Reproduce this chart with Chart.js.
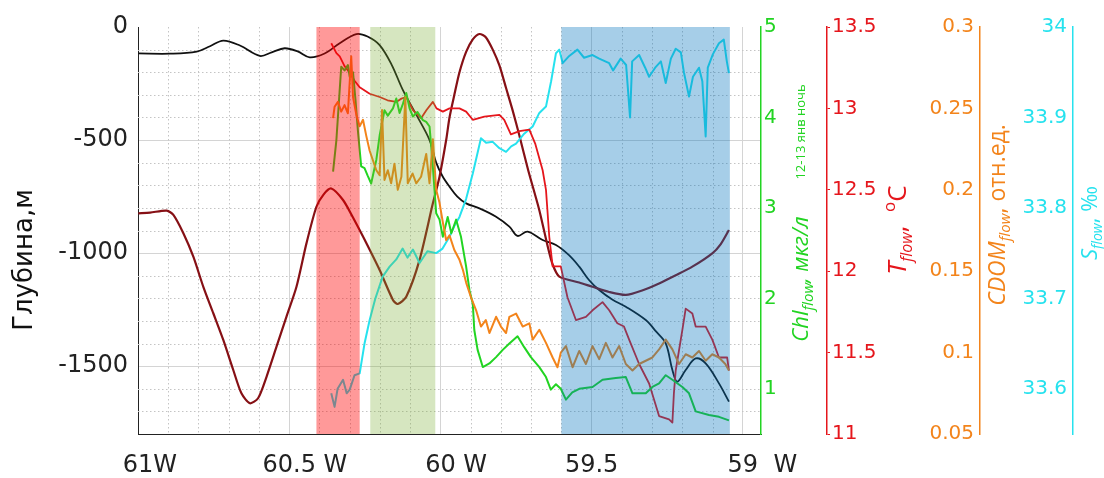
<!DOCTYPE html>
<html>
<head>
<meta charset="utf-8">
<script src="https://cdn.jsdelivr.net/npm/chart.js@4.4.1/dist/chart.umd.min.js"></script>
<style>
  html, body { margin: 0; padding: 0; background: #fff; }
</style>
</head>
<body>
<canvas id="transect" width="1104" height="478"></canvas>
<script>
// Разрез вдоль трека, 12-13 янв (ночь): глубина, Chl, T, CDOM, S

// долгота (°W) и глубина дна
const bottomLon = [60.999, 60.894, 60.806, 60.762, 60.718, 60.663, 60.597, 60.558, 60.515, 60.472,
  60.432, 60.383, 60.333, 60.278, 60.241, 60.201, 60.162, 60.124, 60.079, 60.036,
  60.014, 59.993, 59.970, 59.944, 59.915, 59.871, 59.816, 59.772, 59.745, 59.712,
  59.662, 59.618, 59.574, 59.541, 59.508, 59.475, 59.432, 59.387, 59.321, 59.288,
  59.255, 59.233, 59.217, 59.189, 59.156, 59.123, 59.079, 59.046];
const bottomDepth = [-117, -118, -109, -85, -60, -82, -128, -112, -94, -108,
  -134, -117, -72, -31, -42, -80, -165, -279, -390, -500,
  -600, -660, -706, -750, -780, -802, -839, -883, -924, -905,
  -942, -964, -1010, -1060, -1120, -1163, -1205, -1237, -1296, -1345,
  -1399, -1517, -1569, -1517, -1466, -1488, -1576, -1657];

// глубина зондирования
const probeLon = [60.999, 60.960, 60.905, 60.883, 60.850, 60.817, 60.784, 60.751, 60.718, 60.685,
  60.658, 60.630, 60.603, 60.575, 60.542, 60.509, 60.476, 60.443, 60.410, 60.386,
  60.361, 60.322, 60.290, 60.256, 60.201, 60.157, 60.141, 60.113, 60.069, 60.025,
  60.003, 59.981, 59.970, 59.954, 59.937, 59.915, 59.893, 59.871, 59.850, 59.827,
  59.805, 59.783, 59.761, 59.739, 59.710, 59.673, 59.645, 59.629, 59.607, 59.541,
  59.497, 59.442, 59.387, 59.333, 59.277, 59.222, 59.167, 59.101, 59.073, 59.046];
const probeDepth = [-824, -821, -812, -831, -912, -1016, -1149, -1266, -1384, -1517,
  -1620, -1664, -1642, -1547, -1414, -1281, -1149, -957, -795, -740,
  -714, -765, -840, -927, -1075, -1207, -1225, -1193, -1030, -780,
  -662, -500, -400, -300, -200, -110, -55, -31, -45, -100,
  -170, -270, -370, -480, -632, -810, -972, -1050, -1104, -1130,
  -1149, -1172, -1185, -1165, -1134, -1098, -1060, -1001, -960, -898];

// проточные измерения
const tempLon = [60.361, 60.344, 60.333, 60.317, 60.300, 60.284, 60.267, 60.234, 60.201, 60.175,
  60.146, 60.129, 60.113, 60.091, 60.064, 60.046, 60.025, 60.013, 59.992, 59.970,
  59.937, 59.915, 59.893, 59.855, 59.805, 59.789, 59.767, 59.739, 59.706, 59.686,
  59.662, 59.651, 59.640, 59.629, 59.613, 59.602, 59.580, 59.552, 59.519, 59.497,
  59.464, 59.442, 59.415, 59.393, 59.376, 59.343, 59.310, 59.277, 59.244, 59.233,
  59.228, 59.222, 59.200, 59.189, 59.167, 59.156, 59.123, 59.101, 59.079, 59.052,
  59.046];
const tempFlow = [13.40, 13.34, 13.32, 13.26, 13.22, 13.17, 13.13, 13.09, 13.07, 13.05,
  13.04, 13.06, 13.07, 12.99, 12.94, 12.99, 13.04, 13.00, 12.98, 13.00,
  13.00, 12.98, 12.93, 12.95, 12.96, 12.93, 12.84, 12.86, 12.87, 12.78,
  12.62, 12.50, 12.21, 12.03, 12.03, 12.03, 11.84, 11.70, 11.72, 11.76,
  11.81, 11.76, 11.68, 11.66, 11.58, 11.43, 11.31, 11.11, 11.09, 11.07,
  11.25, 11.39, 11.64, 11.77, 11.74, 11.66, 11.66, 11.58, 11.47, 11.47,
  11.39];

const salLon = [60.361, 60.350, 60.340, 60.322, 60.310, 60.300, 60.284, 60.267, 60.251, 60.234,
  60.215, 60.191, 60.168, 60.146, 60.125, 60.109, 60.091, 60.069, 60.043, 60.014,
  59.993, 59.970, 59.954, 59.937, 59.915, 59.893, 59.866, 59.849, 59.827, 59.805,
  59.783, 59.766, 59.750, 59.723, 59.695, 59.673, 59.651, 59.634, 59.618, 59.607,
  59.596, 59.574, 59.547, 59.525, 59.497, 59.475, 59.442, 59.429, 59.404, 59.386,
  59.373, 59.366, 59.343, 59.323, 59.310, 59.290, 59.271, 59.255, 59.238, 59.222,
  59.205, 59.195, 59.178, 59.165, 59.145, 59.134, 59.123, 59.116, 59.099, 59.079,
  59.063, 59.053, 59.046];
const salFlow = [33.595, 33.580, 33.600, 33.610, 33.595, 33.599, 33.615, 33.617, 33.650, 33.676,
  33.700, 33.724, 33.735, 33.743, 33.755, 33.745, 33.754, 33.739, 33.752, 33.750,
  33.755, 33.768, 33.780, 33.790, 33.810, 33.838, 33.877, 33.872, 33.873, 33.866,
  33.862, 33.868, 33.871, 33.882, 33.890, 33.905, 33.912, 33.940, 33.971, 33.975,
  33.960, 33.968, 33.975, 33.966, 33.969, 33.965, 33.960, 33.952, 33.965, 33.958,
  33.900, 33.962, 33.969, 33.955, 33.945, 33.955, 33.962, 33.938, 33.965, 33.976,
  33.972, 33.950, 33.923, 33.945, 33.955, 33.940, 33.879, 33.955, 33.970, 33.982,
  33.986, 33.962, 33.949];

const chlLon = [60.355, 60.344, 60.328, 60.317, 60.306, 60.300, 60.289, 60.281, 60.273, 60.262,
  60.251, 60.241, 60.229, 60.212, 60.201, 60.185, 60.174, 60.157, 60.146, 60.135,
  60.124, 60.113, 60.102, 60.091, 60.076, 60.058, 60.047, 60.036, 60.026, 60.014,
  60.003, 59.992, 59.976, 59.964, 59.948, 59.932, 59.915, 59.904, 59.893, 59.888,
  59.877, 59.860, 59.838, 59.816, 59.794, 59.772, 59.745, 59.723, 59.701, 59.673,
  59.651, 59.635, 59.618, 59.602, 59.585, 59.564, 59.541, 59.497, 59.464, 59.420,
  59.387, 59.365, 59.321, 59.299, 59.277, 59.255, 59.233, 59.200, 59.178, 59.156,
  59.112, 59.079, 59.046];
const chlFlow = [3.40, 3.75, 4.56, 4.52, 4.58, 4.45, 4.50, 4.20, 3.86, 3.46,
  3.44, 3.36, 3.27, 3.53, 3.80, 4.08, 4.02, 4.10, 4.21, 4.05,
  4.15, 4.27, 4.10, 4.01, 4.06, 3.97, 3.95, 3.90, 3.50, 2.94,
  2.87, 2.68, 2.90, 2.72, 2.87, 2.68, 2.35, 2.09, 1.94, 1.65,
  1.43, 1.24, 1.28, 1.35, 1.43, 1.50, 1.58, 1.46, 1.35, 1.24,
  1.13, 0.99, 1.05, 1.00, 0.88, 0.96, 1.00, 1.02, 1.10, 1.12,
  1.13, 0.95, 0.95, 1.02, 1.06, 1.15, 1.10, 1.02, 0.95, 0.75,
  0.71, 0.69, 0.65];

const cdomLon = [60.355, 60.350, 60.339, 60.328, 60.317, 60.306, 60.295, 60.289, 60.278, 60.267,
  60.256, 60.245, 60.234, 60.223, 60.212, 60.201, 60.193, 60.185, 60.174, 60.163,
  60.152, 60.141, 60.129, 60.116, 60.108, 60.092, 60.080, 60.064, 60.047, 60.036,
  60.025, 60.014, 60.003, 59.992, 59.981, 59.970, 59.954, 59.937, 59.926, 59.915,
  59.899, 59.882, 59.866, 59.850, 59.838, 59.816, 59.800, 59.783, 59.772, 59.750,
  59.728, 59.706, 59.695, 59.673, 59.651, 59.629, 59.613, 59.602, 59.585, 59.563,
  59.541, 59.519, 59.497, 59.475, 59.453, 59.431, 59.409, 59.387, 59.365, 59.343,
  59.321, 59.299, 59.277, 59.255, 59.233, 59.211, 59.189, 59.167, 59.145, 59.123,
  59.101, 59.079, 59.058, 59.046];
const cdomFlow = [0.244, 0.251, 0.254, 0.248, 0.252, 0.247, 0.282, 0.257, 0.246, 0.239,
  0.243, 0.233, 0.224, 0.218, 0.212, 0.209, 0.249, 0.206, 0.212, 0.204,
  0.216, 0.200, 0.208, 0.257, 0.204, 0.210, 0.204, 0.208, 0.222, 0.204,
  0.231, 0.200, 0.192, 0.180, 0.169, 0.172, 0.163, 0.157, 0.151, 0.143,
  0.134, 0.126, 0.116, 0.120, 0.112, 0.122, 0.116, 0.112, 0.122, 0.124,
  0.116, 0.118, 0.108, 0.114, 0.106, 0.097, 0.091, 0.100, 0.104, 0.091,
  0.101, 0.093, 0.104, 0.096, 0.106, 0.097, 0.104, 0.093, 0.089, 0.093,
  0.095, 0.097, 0.102, 0.108, 0.102, 0.093, 0.099, 0.097, 0.101, 0.095,
  0.099, 0.097, 0.093, 0.089];

// выделенные участки разреза (°W, от-до)
const zoneFrom = [60.410, 60.232, 59.600];
const zoneTo = [60.267, 60.017, 59.043];

// подписи осей
const lonTicks = [61, 60.5, 60, 59.5, 59];
const lonSuffix = ['W', ' W', ' W', '', '  W'];
const depthTicks = [0, -500, -1000, -1500];
const chlTicks = [1, 2, 3, 4, 5];
const tempTicks = [11, 11.5, 12, 12.5, 13, 13.5];
const cdomTicks = [0.05, 0.1, 0.15, 0.2, 0.25, 0.3];
const salTicks = [33.6, 33.7, 33.8, 33.9, 34];

const C_CHL = '#22d422';
const C_T = '#e5161c';
const C_CDOM = '#f3841b';
const C_S = '#26e2ee';
const zoneFill = ['rgba(255,0,0,0.40)', 'rgba(119,172,48,0.30)', 'rgba(0,114,189,0.35)'];

const TICK_FONT = 'DejaVu Sans';
const TITLE_FONT = '"Open Sans", "DejaVu Sans", sans-serif';

const pts = (xs, ys) => xs.map((x, i) => ({ x: x, y: ys[i] }));
const fixedTicks = list => scale => { scale.ticks = list.map(v => ({ value: v })); };

function line(data, color, axis, width, tension) {
  return {
    data: data, yAxisID: axis, borderColor: color, borderWidth: width,
    pointRadius: 0, tension: tension || 0, fill: false, borderJoinStyle: 'round'
  };
}

function sideAxis(color, min, max, ticks, width, opts) {
  return {
    type: 'linear', position: 'right', min: min, max: max,
    afterBuildTicks: fixedTicks(ticks),
    afterFit: s => { s.width = width; },
    grid: { drawOnChartArea: false, drawTicks: opts.tickLen > 0, tickLength: opts.tickLen, color: color },
    border: { color: color, width: 1.5 },
    ticks: {
      color: color, mirror: opts.mirror, padding: opts.pad,
      font: { family: TICK_FONT, size: 20 },
      callback: v => String(v)
    }
  };
}

// текст, повёрнутый на 90°, с подстрочными индексами
function drawVertical(ctx, x, yMid, parts) {
  ctx.save();
  let total = 0;
  parts.forEach(p => { ctx.font = p.font; p.w = ctx.measureText(p.t).width; total += p.w; });
  ctx.translate(x, yMid);
  ctx.rotate(-Math.PI / 2);
  ctx.textBaseline = 'alphabetic';
  ctx.textAlign = 'left';
  let pos = -total / 2;
  parts.forEach(p => {
    ctx.font = p.font;
    ctx.fillStyle = p.color;
    ctx.fillText(p.t, pos, p.shift || 0);
    pos += p.w;
  });
  ctx.restore();
}

const decor = {
  id: 'decor',
  beforeDatasetsDraw(chart) {
    // мелкая пунктирная сетка: 0.1° и 100 м
    const { ctx, chartArea: a, scales } = chart;
    ctx.save();
    ctx.strokeStyle = '#c4c4c4';
    ctx.lineWidth = 1;
    ctx.setLineDash([1.5, 2.5]);
    for (let k = 590; k <= 610; k++) {
      if (k % 5 === 0) continue;
      const px = Math.round(scales.x.getPixelForValue(k / 10)) + 0.5;
      ctx.beginPath(); ctx.moveTo(px, a.top); ctx.lineTo(px, a.bottom); ctx.stroke();
    }
    for (let d = -100; d > -1800; d -= 100) {
      if (d % 500 === 0) continue;
      const py = Math.round(scales.y.getPixelForValue(d)) + 0.5;
      ctx.beginPath(); ctx.moveTo(a.left, py); ctx.lineTo(a.right, py); ctx.stroke();
    }
    ctx.restore();
  },
  afterDatasetsDraw(chart) {
    const { ctx, chartArea: a, scales } = chart;
    ctx.save();
    zoneFrom.forEach((from, i) => {
      const x1 = scales.x.getPixelForValue(from);
      const x2 = scales.x.getPixelForValue(zoneTo[i]);
      ctx.fillStyle = zoneFill[i];
      ctx.fillRect(x1, a.top, x2 - x1, a.bottom - a.top);
    });
    ctx.restore();
  },
  afterDraw(chart) {
    const { ctx, scales } = chart;
    // буква W после чисел на оси долгот
    ctx.save();
    ctx.font = '24px "' + TICK_FONT + '"';
    ctx.fillStyle = '#222';
    ctx.textBaseline = 'middle';
    ctx.textAlign = 'left';
    const ly = scales.x.top + 17 + 24 * 1.2 / 2;
    lonTicks.forEach((v, i) => {
      if (!lonSuffix[i]) return;
      const lw = ctx.measureText(String(v)).width;
      ctx.fillText(lonSuffix[i], scales.x.getPixelForValue(v) + lw / 2, ly);
    });
    ctx.restore();

    const it = s => 'italic ' + s + 'px ' + TITLE_FONT;
    const up = s => s + 'px ' + TITLE_FONT;
    drawVertical(ctx, 32, 260, [{ t: 'Глубина,м', font: '26px "DejaVu Sans"', color: '#111' }]);
    drawVertical(ctx, 808, 279, [
      { t: 'Chl', font: it(22), color: C_CHL },
      { t: 'flow', font: it(15), color: C_CHL, shift: 5 },
      { t: ', мкг/л', font: it(22), color: C_CHL }
    ]);
    drawVertical(ctx, 805, 132, [{ t: '12-13 янв ночь', font: up(13), color: C_CHL }]);
    drawVertical(ctx, 906, 230, [
      { t: 'T', font: it(26), color: C_T },
      { t: 'flow', font: it(16), color: C_T, shift: 6 },
      { t: ',  ', font: up(26), color: C_T },
      { t: 'o', font: up(17), color: C_T, shift: -11 },
      { t: 'C', font: up(26), color: C_T }
    ]);
    drawVertical(ctx, 1005, 215, [
      { t: 'CDOM', font: it(23), color: C_CDOM },
      { t: 'flow', font: it(15), color: C_CDOM, shift: 5 },
      { t: ', отн.ед.', font: up(23), color: C_CDOM }
    ]);
    drawVertical(ctx, 1097, 223, [
      { t: 'S', font: it(22), color: C_S },
      { t: 'flow', font: it(14), color: C_S, shift: 5 },
      { t: ', ‰', font: up(22), color: C_S }
    ]);
  }
};

new Chart(document.getElementById('transect'), {
  type: 'line',
  data: {
    datasets: [
      line(pts(cdomLon, cdomFlow), C_CDOM, 'yCdom', 2),
      line(pts(chlLon, chlFlow), C_CHL, 'yChl', 2),
      line(pts(tempLon, tempFlow), C_T, 'yT', 1.8),
      line(pts(salLon, salFlow), C_S, 'yS', 2),
      line(pts(probeLon, probeDepth), '#861015', 'y', 2.2, 0.25),
      line(pts(bottomLon, bottomDepth), '#111111', 'y', 1.8, 0.35)
    ]
  },
  options: {
    responsive: false,
    devicePixelRatio: 1,
    animation: false,
    layout: { padding: { top: 27, left: 0, right: 0, bottom: 0 } },
    plugins: { legend: { display: false }, tooltip: { enabled: false } },
    scales: {
      x: {
        type: 'linear', position: 'bottom', min: 58.94, max: 61, reverse: true,
        afterBuildTicks: fixedTicks(lonTicks),
        afterFit: s => { s.height = 44; },
        grid: { color: c => (c.tick && c.tick.value === 61) ? 'rgba(0,0,0,0)' : '#d4d4d4', drawTicks: false },
        border: { color: '#222', width: 1 },
        ticks: {
          color: '#222', padding: 17, autoSkip: false, maxRotation: 0,
          font: { family: TICK_FONT, size: 24 },
          callback: v => String(v)
        }
      },
      y: {
        type: 'linear', position: 'left', min: -1800, max: 0,
        afterBuildTicks: fixedTicks(depthTicks),
        afterFit: s => { s.width = 138; },
        grid: { color: c => (c.tick && c.tick.value === 0) ? 'rgba(0,0,0,0)' : '#d4d4d4', drawTicks: false },
        border: { color: '#222', width: 1 },
        ticks: {
          color: '#222', padding: 10,
          font: { family: TICK_FONT, size: 24 },
          callback: v => String(v)
        }
      },
      yChl: sideAxis(C_CHL, 0.5, 5, chlTicks, 66, { mirror: false, pad: 3, tickLen: 0 }),
      yT: sideAxis(C_T, 11, 13.5, tempTicks, 153, { mirror: false, pad: 2, tickLen: 3 }),
      yCdom: sideAxis(C_CDOM, 0.05, 0.3, cdomTicks, 93, { mirror: true, pad: -6, tickLen: 0 }),
      yS: sideAxis(C_S, 33.55, 34, salTicks, 31, { mirror: true, pad: -6, tickLen: 0 })
    }
  },
  plugins: [decor]
});
</script>
</body>
</html>
